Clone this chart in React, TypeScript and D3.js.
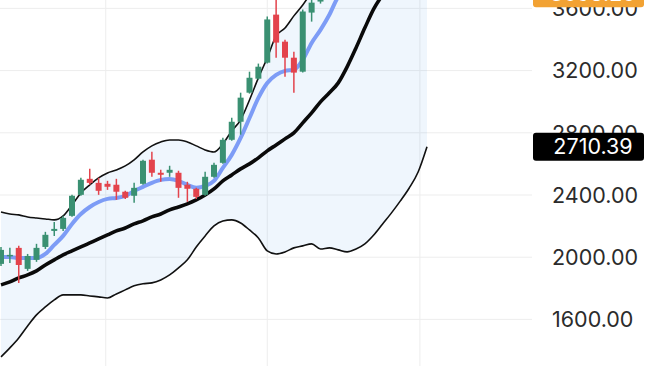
import React from 'react';
import * as d3 from 'd3';

// price levels on the right axis
const priceTicks = [1600, 2000, 2400, 2800, 3200, 3600];
// vertical grid lines, in candle index units
const gridIdx = [11.8, 30, 47.2];

// candles (index 0..48)
const opens = [1957, 2008, 2060, 1925, 1983, 2066, 2169, 2182, 2266, 2401, 2504, 2478, 2472, 2466, 2421, 2395, 2472, 2627, 2543, 2543, 2543, 2466, 2440, 2401, 2517, 2607, 2755, 2871, 3058, 3148, 3251, 3560, 3386, 3283, 3193, 3573, 3644, 3690, 3745, 3790, 3860, 3820, 3880, 3935, 3880, 3820, 3850, 3760, 3780];
const highs = [2066, 2060, 2073, 2021, 2086, 2163, 2227, 2266, 2401, 2511, 2569, 2511, 2491, 2504, 2427, 2479, 2627, 2678, 2562, 2588, 2556, 2485, 2446, 2549, 2607, 2768, 2897, 3058, 3193, 3245, 3548, 3689, 3399, 3322, 3593, 3670, 3721, 3760, 3810, 3880, 3930, 3900, 3960, 3990, 3920, 3870, 3900, 3800, 3810];
const lows = [1944, 1963, 1834, 1912, 1970, 2053, 2137, 2169, 2260, 2395, 2466, 2401, 2433, 2369, 2375, 2350, 2466, 2517, 2485, 2517, 2382, 2356, 2375, 2395, 2511, 2601, 2749, 2788, 3052, 3142, 3245, 3283, 3161, 3058, 3187, 3515, 3631, 3675, 3720, 3770, 3800, 3780, 3850, 3860, 3790, 3760, 3740, 3700, 3690];
const closes = [2047, 2015, 1950, 2008, 2060, 2144, 2182, 2253, 2395, 2498, 2478, 2427, 2453, 2421, 2382, 2446, 2620, 2543, 2530, 2562, 2446, 2440, 2388, 2517, 2594, 2755, 2871, 3026, 3154, 3225, 3529, 3380, 3283, 3187, 3580, 3637, 3689, 3745, 3790, 3860, 3820, 3880, 3935, 3880, 3820, 3850, 3760, 3780, 3698.2];

// bollinger bands + averages
const upperBand = [2291, 2278, 2272, 2259, 2252, 2246, 2240, 2266, 2336, 2413, 2465, 2510, 2542, 2561, 2587, 2626, 2677, 2716, 2741, 2754, 2754, 2741, 2716, 2690, 2677, 2729, 2812, 2883, 3011, 3153, 3282, 3423, 3474, 3552, 3622, 3706, 3790, 3900, 4020, 4150, 4280, 4380, 4450, 4500, 4530, 4560, 4580, 4600, 4610];
const middleBand = [1822, 1841, 1867, 1886, 1912, 1950, 1983, 2015, 2041, 2066, 2092, 2118, 2143, 2169, 2188, 2214, 2234, 2259, 2278, 2304, 2323, 2343, 2368, 2400, 2439, 2491, 2529, 2568, 2600, 2639, 2684, 2722, 2761, 2800, 2864, 2928, 2999, 3057, 3121, 3224, 3346, 3475, 3597, 3687, 3760, 3800, 3830, 3850, 3860];
const lowerBand = [1359, 1417, 1481, 1558, 1629, 1680, 1725, 1758, 1758, 1758, 1751, 1745, 1738, 1764, 1790, 1816, 1829, 1835, 1854, 1886, 1931, 1983, 2066, 2137, 2201, 2233, 2240, 2220, 2175, 2124, 2041, 2021, 2034, 2060, 2073, 2086, 2053, 2060, 2047, 2034, 2053, 2086, 2143, 2214, 2285, 2362, 2445, 2548, 2710.39];
const fastAvg = [2002, 2002, 1995, 1995, 1995, 2021, 2079, 2137, 2214, 2278, 2323, 2355, 2375, 2381, 2394, 2426, 2452, 2478, 2497, 2503, 2491, 2465, 2446, 2458, 2491, 2574, 2658, 2767, 2895, 3024, 3120, 3172, 3198, 3205, 3269, 3378, 3462, 3559, 3675, 3720, 3760, 3790, 3810, 3830, 3835, 3840, 3830, 3810, 3790];

const width = 654;
const height = 366;
const plotRight = 532;

export default function App() {
    // scales
    const x = d3.scaleLinear().domain([0, 48]).range([1, 427]);
    const y = d3.scaleLinear().domain([1600, 3600]).range([319.4, 8.4]);
    const idx = d3.range(closes.length);
    const fmt = d3.format('.2f');

    const bandArea = d3.area<number>()
        .x((i) => x(i))
        .y0((i) => y(lowerBand[i]))
        .y1((i) => y(upperBand[i]))
        .curve(d3.curveMonotoneX);

    const mkLine = (arr: number[]) => d3.line<number>()
        .x((i) => x(i))
        .y((i) => y(arr[i]))
        .curve(d3.curveMonotoneX)(idx.slice(0, arr.length)) || '';

    const bodyW = 6;
    const green = '#3a9072';
    const red = '#e3434c';
    const lowerLast = lowerBand[lowerBand.length - 1];
    const lastClose = closes[closes.length - 1];
    const font = 'Inter, "Noto Sans", sans-serif';

    return (
        <svg width={width} height={height}
            style={{ position: 'absolute', left: 0, top: 0, background: 'white' }}>
            {/* grid */}
            {priceTicks.map((t) => (
                <line key={t} x1={0} x2={plotRight} y1={y(t)} y2={y(t)} stroke="#ededed" strokeWidth={1} />
            ))}
            {gridIdx.map((g) => (
                <line key={g} x1={x(g)} x2={x(g)} y1={0} y2={height} stroke="#ededed" strokeWidth={1} />
            ))}

            {/* band fill */}
            <path d={bandArea(idx) || ''} fill="rgba(33,130,230,0.07)" />

            {/* price axis */}
            {priceTicks.map((t) => (
                <text key={t} x={552} y={y(t)} dy="0.36em" fontSize={21.5}
                    fontFamily={font} fill="#2b2b2b">{fmt(t)}</text>
            ))}

            {/* lines */}
            <path d={mkLine(upperBand)} fill="none" stroke="#111" strokeWidth={1.6} />
            <path d={mkLine(lowerBand)} fill="none" stroke="#111" strokeWidth={1.6} />
            <path d={mkLine(middleBand)} fill="none" stroke="#0a0a0a" strokeWidth={3.6} />
            <path d={mkLine(fastAvg)} fill="none" stroke="#7d9cf6" strokeWidth={4} />

            {/* candles */}
            {idx.map((i) => {
                const up = closes[i] >= opens[i];
                const c = up ? green : red;
                const top = y(Math.max(opens[i], closes[i]));
                const bot = y(Math.min(opens[i], closes[i]));
                return (
                    <g key={i}>
                        <line x1={x(i)} x2={x(i)} y1={y(highs[i])} y2={y(lows[i])} stroke={c} strokeWidth={1.5} />
                        <rect x={x(i) - bodyW / 2} y={top} width={bodyW} height={Math.max(1.5, bot - top)} fill={c} />
                    </g>
                );
            })}

            {/* value labels */}
            <rect x={533} y={y(lowerLast) - 14} width={111} height={28} rx={3} fill="#000" />
            <text x={593} y={y(lowerLast)} dy="0.36em" textAnchor="middle" fontSize={21.5}
                fontFamily={font} fill="#fff">{fmt(lowerLast)}</text>
            <rect x={533} y={y(lastClose) - 14} width={111} height={28} rx={3} fill="#f2a233" />
            <text x={593} y={y(lastClose)} dy="0.36em" textAnchor="middle" fontSize={21.5}
                fontFamily={font} fill="#fff">{fmt(lastClose)}</text>
        </svg>
    );
}
